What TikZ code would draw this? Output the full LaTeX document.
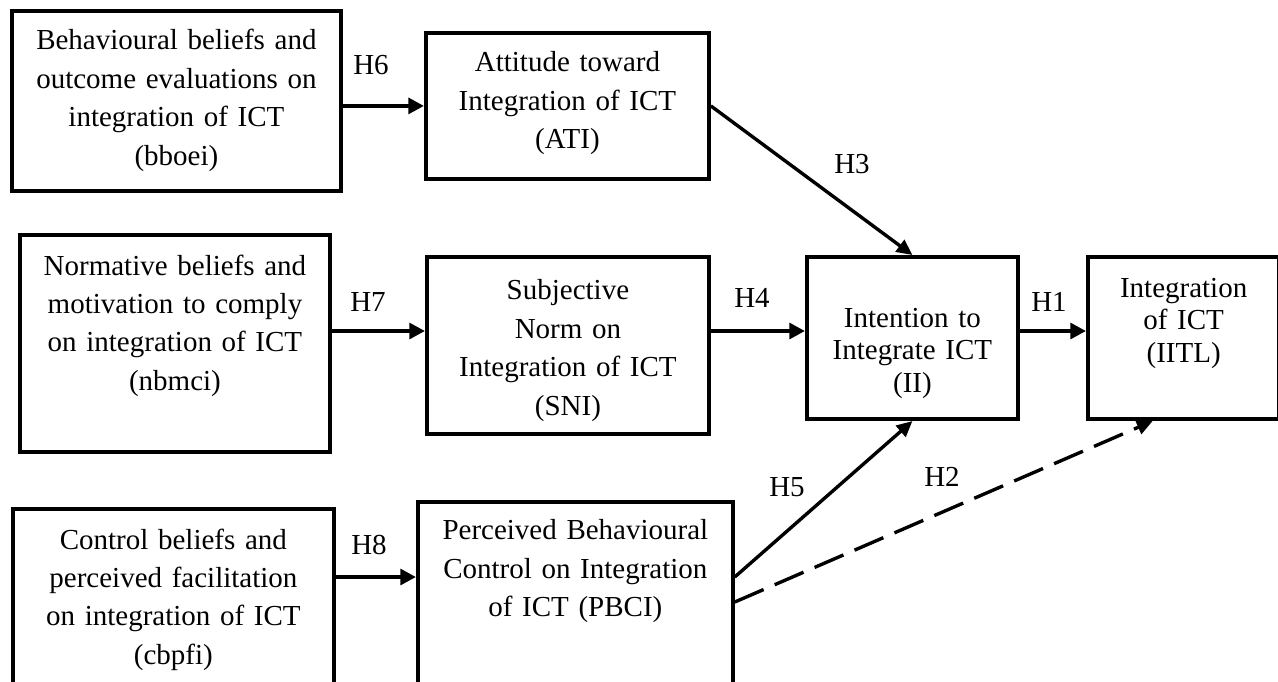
\documentclass[tikz,border=0pt]{standalone}
\usepackage{fontspec}
\setmainfont{Liberation Serif}
\usetikzlibrary{arrows.meta, calc}

\begin{document}
\begin{tikzpicture}[x=0.4138pt, y=-0.4138pt,
  construct/.style={draw, line width=1.6pt, align=center, inner sep=0pt, anchor=north west, font=\fontsize{12}{15.9}\selectfont},
  hyp/.style={line width=1.8pt, -{Triangle[length=6.5pt,width=6.5pt]}},
  slant/.style={line width=1.4pt, -{Triangle[length=6.5pt,width=6pt]}},
  hlabel/.style={font=\fontsize{12}{14}\selectfont}]
\clip (0,0) rectangle (1278,681);

% Belief constructs
\node[construct, text width=136.1pt, text height=16.1pt, text depth=58.3pt] (bboei) at (10,9) {Behavioural beliefs and\\outcome evaluations on\\integration of ICT\\(bboei)};
\node[construct, text width=128.3pt, text height=16.6pt, text depth=73.2pt] (nbmci) at (18,233) {Normative beliefs and\\motivation to comply\\on integration of ICT\\(nbmci)};
\node[construct, text width=132.8pt, text height=16.6pt, text depth=75.7pt] (cbpfi) at (11,507) {Control beliefs and\\perceived facilitation\\on integration of ICT\\(cbpfi)};

% Attitude, norm and control
\node[construct, text width=117.1pt, text height=16.1pt, text depth=44.3pt] (ati) at (424,31) {Attitude toward\\Integration of ICT\\(ATI)};
\node[construct, text width=116.7pt, text height=17.8pt, text depth=55.4pt] (sni) at (425,255) {Subjective\\Norm on\\Integration of ICT\\(SNI)};
\node[construct, text width=130.3pt, text height=15.7pt, text depth=79.5pt] (pbci) at (416,500) {Perceived Behavioural\\Control on Integration\\of ICT (PBCI)};

% Intention and behaviour
\node[construct, font=\fontsize{12}{13.6}\selectfont, text width=87.3pt, text height=29pt, text depth=38.1pt] (ii) at (805,255) {Intention to\\Integrate ICT\\(II)};
\node[construct, font=\fontsize{12}{13.6}\selectfont, text width=79.2pt, text height=16.6pt, text depth=50.5pt] (iitl) at (1086,255) {Integration\\of ICT\\(IITL)};

\coordinate (row) at (0,331);
\coordinate (lowrow) at (0,577);

% Hypotheses
\draw[hyp] (bboei.east |- ati.west) -- (ati.west);
\draw[hyp] (nbmci.east |- row) -- (sni.west |- row);
\draw[hyp] (cbpfi.east |- lowrow) -- (pbci.west |- lowrow);
\draw[hyp] (sni.east |- row) -- (ii.west |- row);
\draw[hyp] (ii.east |- row) -- (iitl.west |- row);
\draw[slant] (ati.east) -- (ii.north);
\draw[slant] (pbci.east |- lowrow) -- (ii.south);
\draw[slant, dash pattern=on 13pt off 5pt] ($(pbci.east |- lowrow)+(0,25)$) -- ($(iitl.south)+(-31,0)$);

\node[hlabel] (h6) at (371,65) {H6};
\node[hlabel] (h7) at (368,302) {H7};
\node[hlabel] (h8) at (369,545) {H8};
\node[hlabel] (h4) at (752,298) {H4};
\node[hlabel] (h1) at (1049,302) {H1};
\node[hlabel] (h3) at (852,164) {H3};
\node[hlabel] (h5) at (787,487) {H5};
\node[hlabel] (h2) at (942,477) {H2};
\end{tikzpicture}
\end{document}
